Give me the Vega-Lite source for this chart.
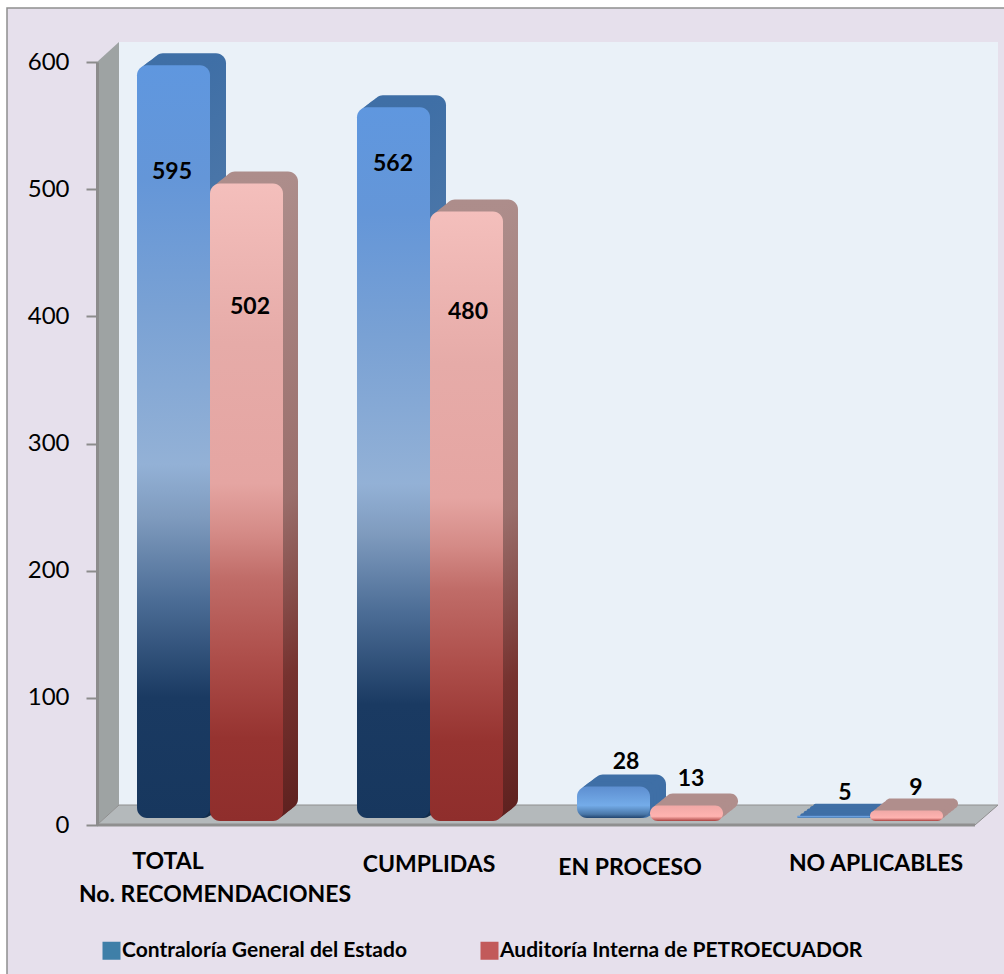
{"$schema":"https://vega.github.io/schema/vega-lite/v6.json","width":880,"height":763,"autosize":"none","padding":{"left":100,"top":62,"right":24,"bottom":149},"background":"#ffffff","config":{"view":{"stroke":null},"font":"Lato","text":{"font":"Lato"}},"data":{"name":"datos","values":[{"categoria":"TOTAL No. RECOMENDACIONES","serie":"Contraloría General del Estado","valor":595},{"categoria":"TOTAL No. RECOMENDACIONES","serie":"Auditoría Interna de PETROECUADOR","valor":502},{"categoria":"CUMPLIDAS","serie":"Contraloría General del Estado","valor":562},{"categoria":"CUMPLIDAS","serie":"Auditoría Interna de PETROECUADOR","valor":480},{"categoria":"EN PROCESO","serie":"Contraloría General del Estado","valor":28},{"categoria":"EN PROCESO","serie":"Auditoría Interna de PETROECUADOR","valor":13},{"categoria":"NO APLICABLES","serie":"Contraloría General del Estado","valor":5},{"categoria":"NO APLICABLES","serie":"Auditoría Interna de PETROECUADOR","valor":9}]},"layer":[{"mark":{"type":"bar","width":1},"encoding":{"x":{"field":"categoria","type":"nominal","sort":null,"title":null,"scale":{"domain":["TOTAL No. RECOMENDACIONES","CUMPLIDAS","EN PROCESO","NO APLICABLES"],"paddingInner":0.336,"paddingOuter":0.168},"axis":{"zindex":1,"domain":false,"ticks":false,"labelAngle":0,"labelFont":"Lato","labelFontWeight":"bold","labelFontSize":23,"labelColor":"#000000","labelOverlap":false,"labelBound":false,"labelLimit":0,"labelPadding":25,"labelExpr":"datum.value == 'TOTAL No. RECOMENDACIONES' ? 'TOTAL' : datum.value","encoding":{"labels":{"dx":{"value":{"signal":"datum.value == 'EN PROCESO' ? -20 : datum.value == 'NO APLICABLES' ? 6 : datum.value == 'CUMPLIDAS' ? -1 : -42"}},"dy":{"value":{"signal":"datum.value == 'EN PROCESO' ? 6 : datum.value == 'NO APLICABLES' ? 2 : datum.value == 'CUMPLIDAS' ? 3 : 0"}}}}}},"y":{"field":"valor","type":"quantitative","stack":null,"title":null,"scale":{"domain":[0,600],"nice":false},"axis":{"zindex":1,"offset":3,"values":[0,100,200,300,400,500,600],"grid":false,"labelFont":"Lato","labelFontSize":24,"labelColor":"#000000","labelPadding":17,"tickSize":11,"tickWidth":2,"tickColor":"#8c8c8c","domainColor":"#8c8c8c","domainWidth":3}},"color":{"field":"serie","type":"nominal","scale":{"domain":["Contraloría General del Estado","Auditoría Interna de PETROECUADOR"],"range":["#3F7FA8","#C25A5A"]},"legend":{"title":null,"orient":"none","legendX":1,"legendY":878,"direction":"horizontal","columns":2,"columnPadding":72,"symbolType":"square","symbolSize":324,"symbolStrokeWidth":0,"symbolOpacity":1,"labelFont":"Lato","labelFontWeight":"bold","labelFontSize":21,"labelColor":"#000000","labelOffset":0,"labelLimit":0}}}},{"data":{"values":[{}]},"mark":{"type":"point","filled":true,"opacity":1,"size":4000000,"fill":"#E6E0EC","stroke":"#8f8f8f","strokeWidth":1.5,"shape":"M -0.533 -0.817 L 0.47 -0.817 L 0.47 0.155 L -0.533 0.155 Z"},"encoding":{"y":{"datum":0,"type":"quantitative","title":null}}},{"data":{"values":[{}]},"mark":{"type":"point","filled":true,"opacity":1,"size":4000000,"fill":"#EAF1F8","strokeWidth":0,"shape":"M -0.421 -0.783 L 0.458 -0.783 L 0.458 -0.02 L -0.421 -0.02 Z"},"encoding":{"y":{"datum":0,"type":"quantitative","title":null}}},{"data":{"values":[{}]},"mark":{"type":"point","filled":true,"opacity":1,"size":4000000,"fill":"#9EA3A3","strokeWidth":0,"shape":"M -0.443 -0.763 L -0.421 -0.783 L -0.421 -0.02 L -0.443 0 Z"},"encoding":{"y":{"datum":0,"type":"quantitative","title":null}}},{"data":{"values":[{}]},"mark":{"type":"point","filled":true,"opacity":1,"size":4000000,"fill":"#B4B9BB","stroke":"#8f8f8f","strokeWidth":1,"shape":"M -0.443 0 L -0.421 -0.02 L 0.458 -0.02 L 0.435 0 Z"},"encoding":{"y":{"datum":0,"type":"quantitative","title":null}}},{"data":{"values":[{}]},"mark":{"type":"point","filled":false,"opacity":1,"size":4000000,"stroke":"#8f8f8f","strokeWidth":3,"shape":"M -0.443 0 L 0.435 0"},"encoding":{"y":{"datum":0,"type":"quantitative","title":null}}},{"encoding":{"x":{"field":"categoria","type":"nominal","sort":null,"title":null},"y":{"field":"valor","type":"quantitative","stack":null,"title":null}},"layer":[{"transform":[{"filter":"datum.serie == 'Contraloría General del Estado'"}],"encoding":{"y2":{"datum":0}},"layer":[{"mark":{"type":"bar","width":73,"xOffset":-20.5,"yOffset":-15,"y2Offset":-16,"cornerRadius":10},"encoding":{"color":{"condition":{"test":"datum.valor < 100","value":"#3F6FA6"},"value":{"x1":0,"y1":0,"x2":0,"y2":1,"gradient":"linear","stops":[{"offset":0,"color":"#3F6FA6"},{"offset":0.5,"color":"#5F82AC"},{"offset":0.72,"color":"#2E4A70"},{"offset":0.86,"color":"#13304F"},{"offset":1,"color":"#112B48"}]}}}},{"mark":{"type":"bar","width":73,"xOffset":-23.7,"yOffset":-12.6,"y2Offset":-13.6,"cornerRadius":10},"encoding":{"color":{"condition":{"test":"datum.valor < 100","value":"#3F6FA6"},"value":{"x1":0,"y1":0,"x2":0,"y2":1,"gradient":"linear","stops":[{"offset":0,"color":"#3F6FA6"},{"offset":0.5,"color":"#5F82AC"},{"offset":0.72,"color":"#2E4A70"},{"offset":0.86,"color":"#13304F"},{"offset":1,"color":"#112B48"}]}}}},{"mark":{"type":"bar","width":73,"xOffset":-26.9,"yOffset":-10.2,"y2Offset":-11.2,"cornerRadius":10},"encoding":{"color":{"condition":{"test":"datum.valor < 100","value":"#3F6FA6"},"value":{"x1":0,"y1":0,"x2":0,"y2":1,"gradient":"linear","stops":[{"offset":0,"color":"#3F6FA6"},{"offset":0.5,"color":"#5F82AC"},{"offset":0.72,"color":"#2E4A70"},{"offset":0.86,"color":"#13304F"},{"offset":1,"color":"#112B48"}]}}}},{"mark":{"type":"bar","width":73,"xOffset":-30.1,"yOffset":-7.8,"y2Offset":-8.8,"cornerRadius":10},"encoding":{"color":{"condition":{"test":"datum.valor < 100","value":"#3F6FA6"},"value":{"x1":0,"y1":0,"x2":0,"y2":1,"gradient":"linear","stops":[{"offset":0,"color":"#3F6FA6"},{"offset":0.5,"color":"#5F82AC"},{"offset":0.72,"color":"#2E4A70"},{"offset":0.86,"color":"#13304F"},{"offset":1,"color":"#112B48"}]}}}},{"mark":{"type":"bar","width":73,"xOffset":-33.3,"yOffset":-5.4,"y2Offset":-7,"cornerRadius":10},"encoding":{"color":{"condition":{"test":"datum.valor < 100","value":"#3F6FA6"},"value":{"x1":0,"y1":0,"x2":0,"y2":1,"gradient":"linear","stops":[{"offset":0,"color":"#3F6FA6"},{"offset":0.5,"color":"#5F82AC"},{"offset":0.72,"color":"#2E4A70"},{"offset":0.86,"color":"#13304F"},{"offset":1,"color":"#112B48"}]}}}},{"mark":{"type":"bar","width":73,"xOffset":-36.5,"yOffset":-3,"y2Offset":-7,"cornerRadius":10},"encoding":{"color":{"condition":{"test":"datum.valor < 100","value":{"x1":0,"y1":0,"x2":0,"y2":1,"gradient":"linear","stops":[{"offset":0,"color":"#5D8ED0"},{"offset":0.6,"color":"#74ACE9"},{"offset":0.88,"color":"#4A77A8"},{"offset":1,"color":"#21446F"}]}},"value":{"x1":0,"y1":0,"x2":0,"y2":1,"gradient":"linear","stops":[{"offset":0,"color":"#5F97DF"},{"offset":0.15,"color":"#6496D8"},{"offset":0.32,"color":"#79A1D4"},{"offset":0.53,"color":"#93B1D6"},{"offset":0.6,"color":"#7F9BBE"},{"offset":0.71,"color":"#4C6D96"},{"offset":0.84,"color":"#1A3A62"},{"offset":1,"color":"#17375E"}]}}}}]},{"transform":[{"filter":"datum.serie == 'Auditoría Interna de PETROECUADOR'"}],"encoding":{"y2":{"datum":0}},"layer":[{"mark":{"type":"bar","width":73,"xOffset":51.5,"yOffset":-15,"y2Offset":-16,"cornerRadius":10},"encoding":{"color":{"condition":{"test":"datum.valor < 100","value":"#B08E8C"},"value":{"x1":0,"y1":0,"x2":0,"y2":1,"gradient":"linear","stops":[{"offset":0,"color":"#AD8D8B"},{"offset":0.5,"color":"#9A6E6B"},{"offset":0.78,"color":"#76322F"},{"offset":1,"color":"#5E211F"}]}}}},{"mark":{"type":"bar","width":73,"xOffset":48.5,"yOffset":-12.6,"y2Offset":-13.6,"cornerRadius":10},"encoding":{"color":{"condition":{"test":"datum.valor < 100","value":"#B08E8C"},"value":{"x1":0,"y1":0,"x2":0,"y2":1,"gradient":"linear","stops":[{"offset":0,"color":"#AD8D8B"},{"offset":0.5,"color":"#9A6E6B"},{"offset":0.78,"color":"#76322F"},{"offset":1,"color":"#5E211F"}]}}}},{"mark":{"type":"bar","width":73,"xOffset":45.5,"yOffset":-10.2,"y2Offset":-11.2,"cornerRadius":10},"encoding":{"color":{"condition":{"test":"datum.valor < 100","value":"#B08E8C"},"value":{"x1":0,"y1":0,"x2":0,"y2":1,"gradient":"linear","stops":[{"offset":0,"color":"#AD8D8B"},{"offset":0.5,"color":"#9A6E6B"},{"offset":0.78,"color":"#76322F"},{"offset":1,"color":"#5E211F"}]}}}},{"mark":{"type":"bar","width":73,"xOffset":42.5,"yOffset":-7.8,"y2Offset":-8.8,"cornerRadius":10},"encoding":{"color":{"condition":{"test":"datum.valor < 100","value":"#B08E8C"},"value":{"x1":0,"y1":0,"x2":0,"y2":1,"gradient":"linear","stops":[{"offset":0,"color":"#AD8D8B"},{"offset":0.5,"color":"#9A6E6B"},{"offset":0.78,"color":"#76322F"},{"offset":1,"color":"#5E211F"}]}}}},{"mark":{"type":"bar","width":73,"xOffset":39.5,"yOffset":-5.4,"y2Offset":-6.4,"cornerRadius":10},"encoding":{"color":{"condition":{"test":"datum.valor < 100","value":"#B08E8C"},"value":{"x1":0,"y1":0,"x2":0,"y2":1,"gradient":"linear","stops":[{"offset":0,"color":"#AD8D8B"},{"offset":0.5,"color":"#9A6E6B"},{"offset":0.78,"color":"#76322F"},{"offset":1,"color":"#5E211F"}]}}}},{"mark":{"type":"bar","width":73,"xOffset":36.5,"yOffset":-3,"y2Offset":-4,"cornerRadius":10},"encoding":{"color":{"condition":{"test":"datum.valor < 100","value":{"x1":0,"y1":0,"x2":0,"y2":1,"gradient":"linear","stops":[{"offset":0,"color":"#F0A8A6"},{"offset":0.7,"color":"#FFB3B0"},{"offset":0.9,"color":"#C86A68"},{"offset":1,"color":"#A8423F"}]}},"value":{"x1":0,"y1":0,"x2":0,"y2":1,"gradient":"linear","stops":[{"offset":0,"color":"#F4BFBC"},{"offset":0.25,"color":"#E6ABA8"},{"offset":0.47,"color":"#E5A5A2"},{"offset":0.55,"color":"#D48A86"},{"offset":0.62,"color":"#C06C68"},{"offset":0.74,"color":"#AE4F4B"},{"offset":0.87,"color":"#963330"},{"offset":1,"color":"#8F2E2C"}]}}}}]},{"transform":[{"filter":"datum.valor == 595"}],"mark":{"type":"text","fontWeight":"bold","fontSize":23,"font":"Lato","color":"#000000","dx":-38,"dy":104},"encoding":{"text":{"field":"valor"}}},{"transform":[{"filter":"datum.valor == 502"}],"mark":{"type":"text","fontWeight":"bold","fontSize":23,"font":"Lato","color":"#000000","dx":40,"dy":120},"encoding":{"text":{"field":"valor"}}},{"transform":[{"filter":"datum.valor == 562"}],"mark":{"type":"text","fontWeight":"bold","fontSize":23,"font":"Lato","color":"#000000","dx":-37,"dy":54},"encoding":{"text":{"field":"valor"}}},{"transform":[{"filter":"datum.valor == 480"}],"mark":{"type":"text","fontWeight":"bold","fontSize":23,"font":"Lato","color":"#000000","dx":38,"dy":97},"encoding":{"text":{"field":"valor"}}},{"transform":[{"filter":"datum.valor == 28"}],"mark":{"type":"text","fontWeight":"bold","fontSize":23,"font":"Lato","color":"#000000","dx":-24,"dy":-27},"encoding":{"text":{"field":"valor"}}},{"transform":[{"filter":"datum.valor == 13"}],"mark":{"type":"text","fontWeight":"bold","fontSize":23,"font":"Lato","color":"#000000","dx":41,"dy":-29},"encoding":{"text":{"field":"valor"}}},{"transform":[{"filter":"datum.valor == 5"}],"mark":{"type":"text","fontWeight":"bold","fontSize":23,"font":"Lato","color":"#000000","dx":-25,"dy":-26},"encoding":{"text":{"field":"valor"}}},{"transform":[{"filter":"datum.valor == 9"}],"mark":{"type":"text","fontWeight":"bold","fontSize":23,"font":"Lato","color":"#000000","dx":46,"dy":-26},"encoding":{"text":{"field":"valor"}}},{"transform":[{"filter":"datum.valor == 595"}],"mark":{"type":"text","fontWeight":"bold","fontSize":23,"font":"Lato","color":"#000000","dx":5,"dy":70},"encoding":{"y":{"datum":0,"type":"quantitative","title":null},"text":{"value":"No. RECOMENDACIONES"}}}]}]}
